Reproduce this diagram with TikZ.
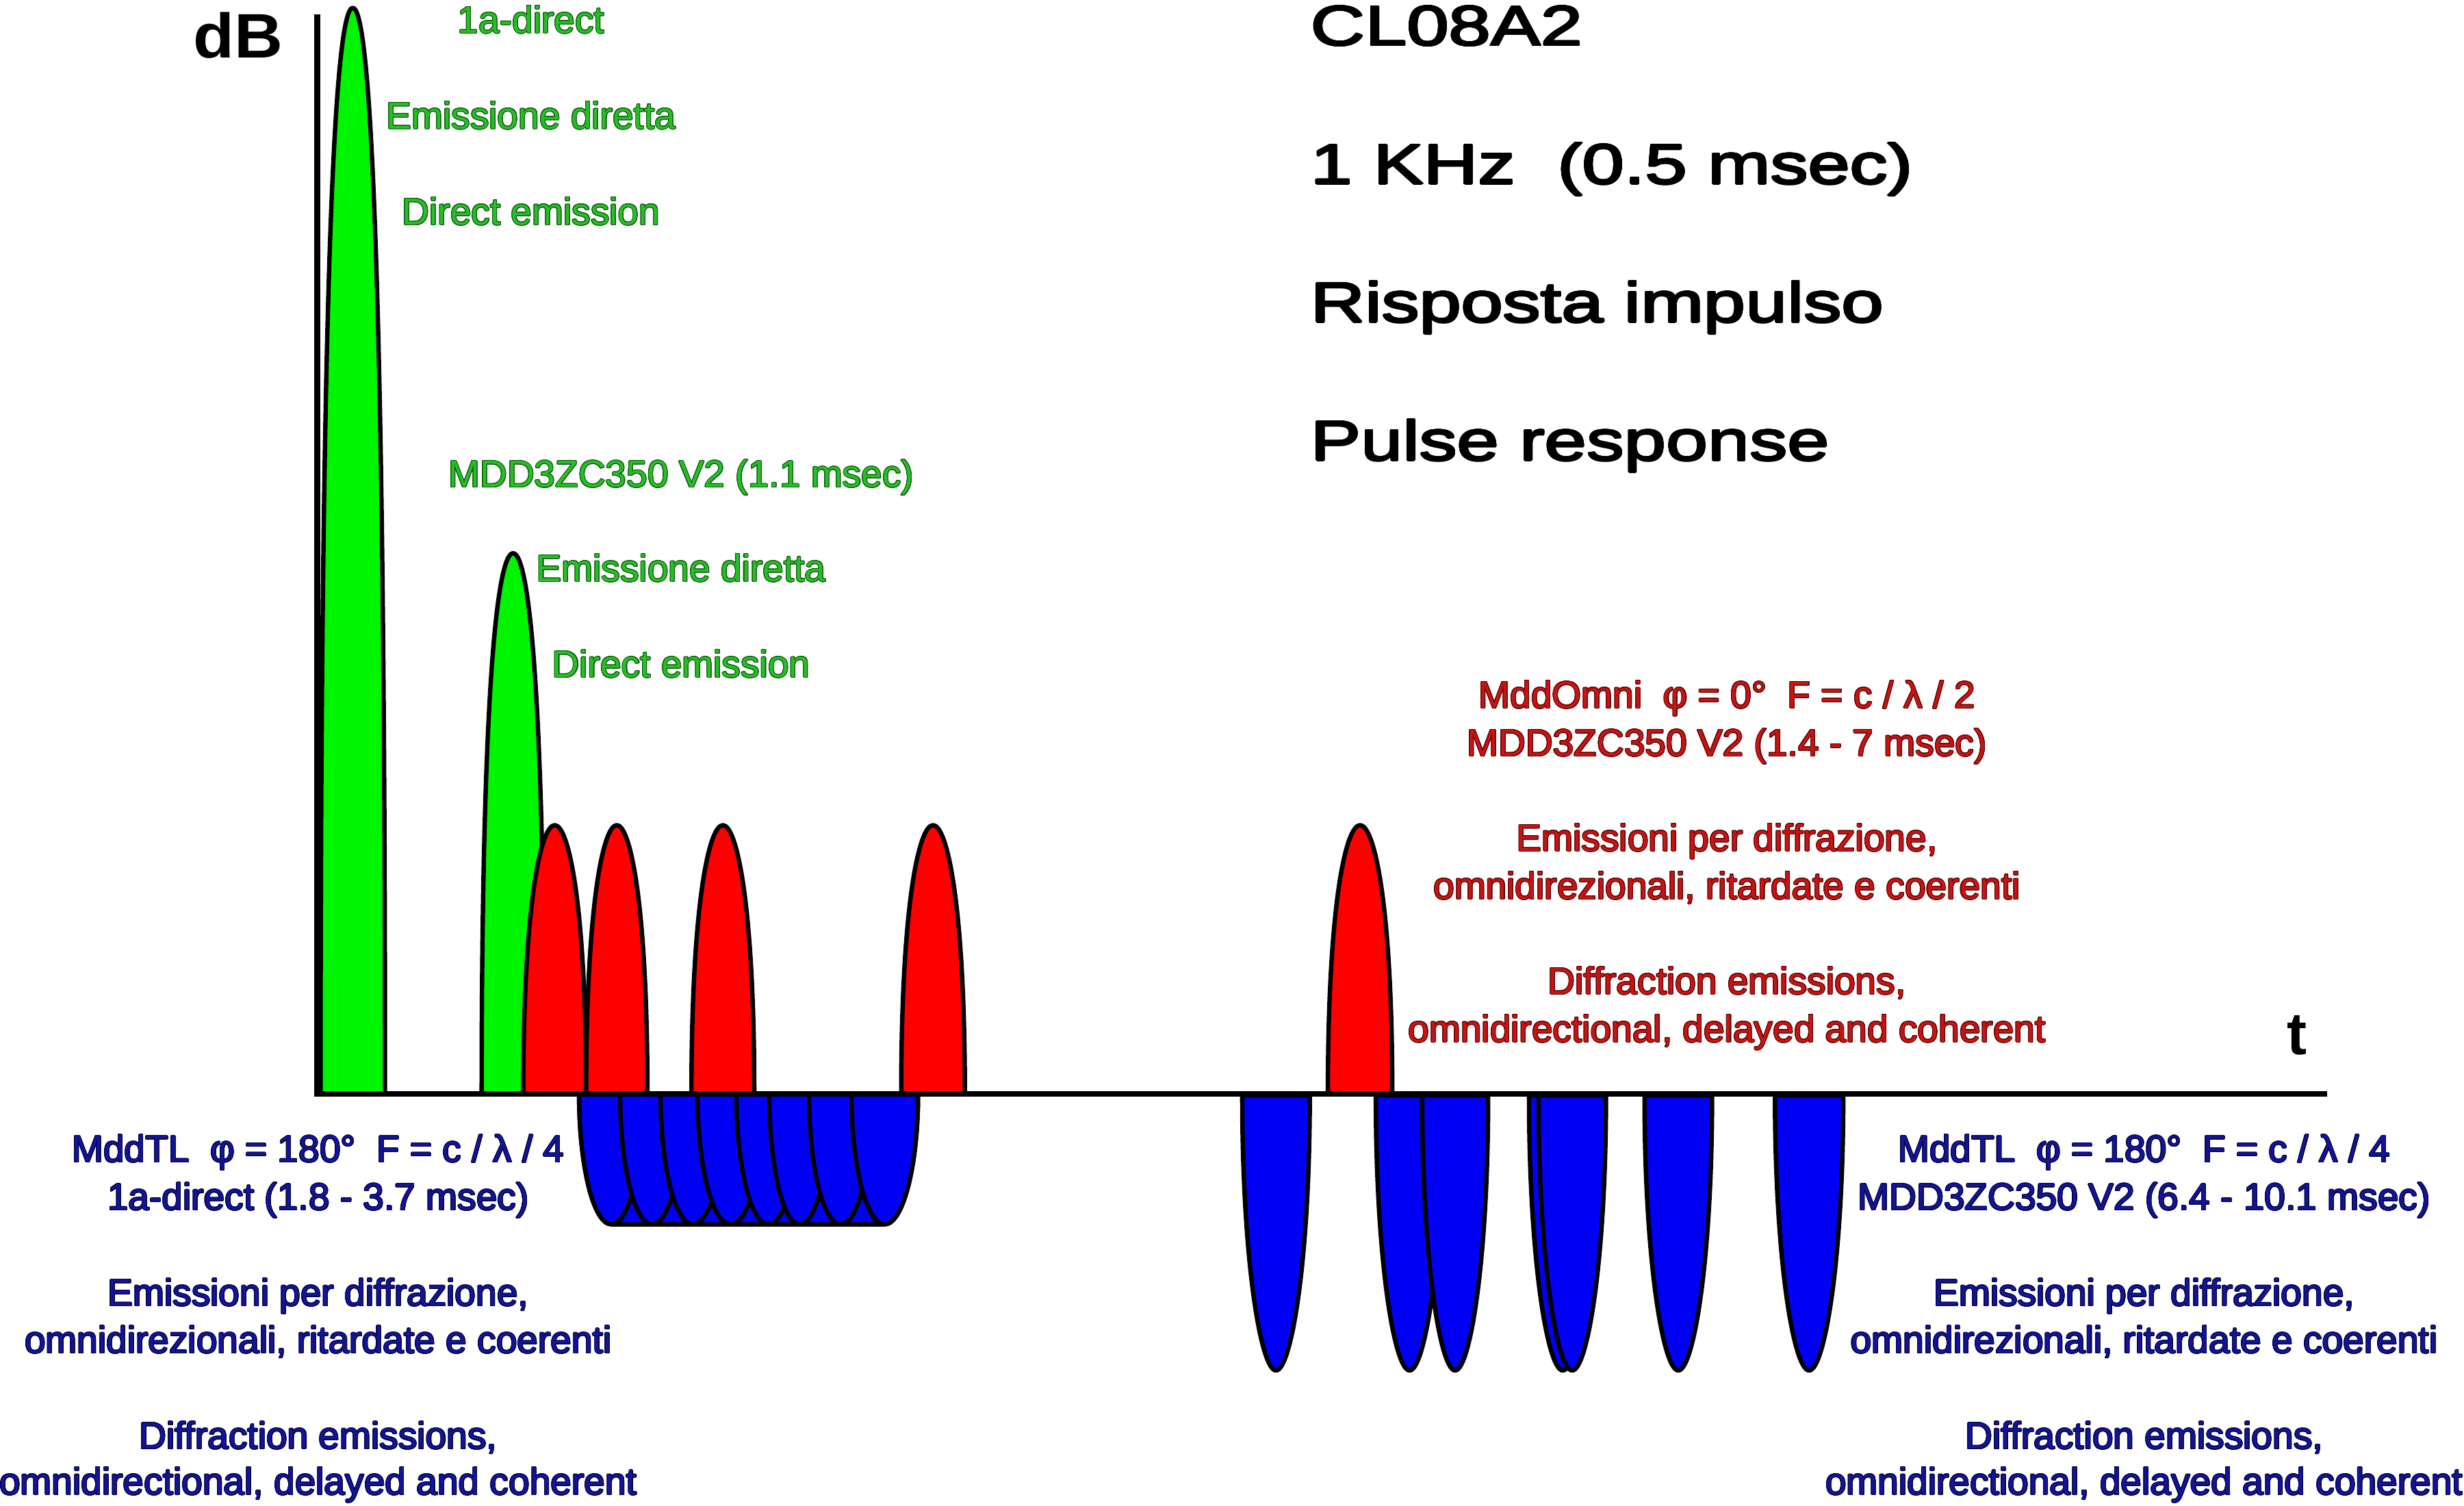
\documentclass[tikz,border=0pt]{standalone}
\usepackage{fontspec}
\setmainfont{Liberation Sans}
\usepackage{contour}
\contourlength{0.45pt}
\definecolor{gfill}{RGB}{40,190,40}
\definecolor{gdark}{RGB}{10,90,10}
\definecolor{rfill}{RGB}{200,20,20}
\definecolor{rdark}{RGB}{95,0,0}
\definecolor{bfill}{RGB}{20,20,150}
\definecolor{bdark}{RGB}{0,0,70}
\definecolor{pgreen}{RGB}{0,245,0}
\definecolor{pred}{RGB}{255,0,0}
\definecolor{pblue}{RGB}{0,0,245}
\newcommand\drawpulse[7]{%
  \pgfmathsetmacro\pmC{(#2+#3)/2}%
  \pgfmathsetmacro\pmR{(#3-#2)/2}%
  \pgfmathsetmacro\pmY{#4+#6*(#5-#4)}%
  \pgfmathsetmacro\pmL{\pmC-#7*\pmR}%
  \pgfmathsetmacro\pmQ{\pmC+#7*\pmR}%
  \filldraw[pulseline, fill=#1] (#2,#4) .. controls (#2,\pmY) and (\pmL,#5) .. (\pmC,#5) .. controls (\pmQ,#5) and (#3,\pmY) .. (#3,#4) -- cycle;
}
\newcommand\txtG[1]{\contour{gdark}{#1}}
\newcommand\txtR[1]{\contour{rdark}{#1}}
\newcommand\txtB[1]{\contour{bdark}{#1}}
\newcommand\txtK[1]{\contourlength{0.6pt}\contour{black}{\scalebox{1.33}[1]{#1}}}
\begin{document}
\begin{tikzpicture}[x=1pt,y=-1pt,
  pulseline/.style={draw=black, line width=2.8pt, line join=round},
  axisline/.style={draw=black, line width=3.8pt},
  lbl/.style={inner sep=0pt, anchor=base, font=\fontsize{24}{28}\selectfont},
  gtxt/.style={lbl, text=gfill},
  rtxt/.style={lbl, text=rfill},
  btxt/.style={lbl, text=bfill},
  ttl/.style={inner sep=0pt, anchor=base west, font=\fontsize{36}{40}\selectfont}]
\fill[white] (0,0) rectangle (1568,958);
\useasboundingbox (0,0) rectangle (1568,958);

% green direct pulses
\drawpulse{pgreen}{204}{245}{696}{5}{0.8}{0.5}
\drawpulse{pgreen}{306.5}{346.5}{696}{352}{0.75}{0.5}
% red pulses
\drawpulse{pred}{333}{373}{696}{525}{0.7}{0.45}
\drawpulse{pred}{373}{412}{696}{525}{0.7}{0.45}
\drawpulse{pred}{440}{480}{696}{525}{0.7}{0.45}
\drawpulse{pred}{573.5}{614}{696}{525}{0.7}{0.45}
\drawpulse{pred}{845}{886}{696}{525}{0.7}{0.45}

% blue group (1.8 - 3.7 msec)
\filldraw[pulseline, fill=pblue] (368.5,696) .. controls (368.5,741.8) and (377.7,779) .. (389,779) -- (563,779) .. controls (574.5,779) and (584.2,741.8) .. (584.2,696) -- cycle;
\drawpulse{pblue}{368.5}{409.5}{696}{779}{0.552}{0.552}
\drawpulse{pblue}{394.6}{435.4}{696}{779}{0.552}{0.552}
\drawpulse{pblue}{420.3}{461.7}{696}{779}{0.552}{0.552}
\drawpulse{pblue}{443.8}{486.2}{696}{779}{0.552}{0.552}
\drawpulse{pblue}{468.6}{509.4}{696}{779}{0.552}{0.552}
\drawpulse{pblue}{489.5}{528.5}{696}{779}{0.552}{0.552}
\drawpulse{pblue}{514.8}{555.2}{696}{779}{0.552}{0.552}
\drawpulse{pblue}{541.8}{584.2}{696}{779}{0.552}{0.552}

% blue pulses (6.4 - 10.1 msec)
\drawpulse{pblue}{790.5}{833.5}{697}{872}{0.6}{0.45}
\drawpulse{pblue}{875.5}{918.5}{697}{872}{0.6}{0.45}
\drawpulse{pblue}{905}{947}{697}{872}{0.6}{0.45}
\drawpulse{pblue}{973}{1016}{697}{872}{0.6}{0.45}
\drawpulse{pblue}{979}{1022}{697}{872}{0.6}{0.45}
\drawpulse{pblue}{1046.5}{1089.5}{697}{872}{0.6}{0.45}
\drawpulse{pblue}{1129.5}{1173}{697}{872}{0.6}{0.45}

% axes
\coordinate (ytop) at (202,9);
\coordinate (orig) at (202,696);
\coordinate (xend) at (1481,696);
\draw[axisline] (ytop) -- ([yshift=-1.9pt]orig);
\draw[axisline] ([xshift=-1.9pt]orig) -- (xend);
\node[inner sep=0pt, anchor=base west, font=\bfseries\fontsize{40}{44}\selectfont] (dB) at (123,37) {\scalebox{1.07}[1]{dB}};
\node[inner sep=0pt, anchor=base west, font=\bfseries\fontsize{38}{40}\selectfont] (tlab) at (1455,671) {t};

% title
\node[ttl] (t1) at (834,29) {\txtK{CL08A2}};
\node[ttl] (t2) at (834,117) {\txtK{1 KHz\ \ (0.5 msec)}};
\node[ttl] (t3) at (834,205) {\txtK{Risposta impulso}};
\node[ttl] (t4) at (834,293) {\txtK{Pulse response}};

% green labels
\node[gtxt] (g1) at (338,21) {\txtG{1a-direct}};
\node[gtxt] (g2) at (338,82) {\txtG{Emissione diretta}};
\node[gtxt] (g3) at (338,143) {\txtG{Direct emission}};
\node[gtxt] (g4) at (433.5,310) {\txtG{MDD3ZC350 V2 (1.1 msec)}};
\node[gtxt] (g5) at (433.5,370) {\txtG{Emissione diretta}};
\node[gtxt] (g6) at (433.5,431) {\txtG{Direct emission}};

% red labels
\node[rtxt] (r1) at (1099,450.5) {\txtR{MddOmni\ \ φ = 0°\ \ F = c / λ / 2}};
\node[rtxt] (r2) at (1099,481) {\txtR{MDD3ZC350 V2 (1.4 - 7 msec)}};
\node[rtxt] (r3) at (1099,541.5) {\txtR{Emissioni per diffrazione,}};
\node[rtxt] (r4) at (1099,572) {\txtR{omnidirezionali, ritardate e coerenti}};
\node[rtxt] (r5) at (1099,632.5) {\txtR{Diffraction emissions,}};
\node[rtxt] (r6) at (1099,663) {\txtR{omnidirectional, delayed and coherent}};

% blue labels left
\node[btxt] (bl1) at (202.5,739.5) {\txtB{MddTL\ \ φ = 180°\ \ F = c / λ / 4}};
\node[btxt] (bl2) at (202.5,770) {\txtB{1a-direct (1.8 - 3.7 msec)}};
\node[btxt] (bl3) at (202.5,831) {\txtB{Emissioni per diffrazione,}};
\node[btxt] (bl4) at (202.5,861) {\txtB{omnidirezionali, ritardate e coerenti}};
\node[btxt] (bl5) at (202.5,922) {\txtB{Diffraction emissions,}};
\node[btxt] (bl6) at (202.5,951) {\txtB{omnidirectional, delayed and coherent}};

% blue labels right
\node[btxt] (br1) at (1364.5,739.5) {\txtB{MddTL\ \ φ = 180°\ \ F = c / λ / 4}};
\node[btxt] (br2) at (1364.5,770) {\txtB{MDD3ZC350 V2 (6.4 - 10.1 msec)}};
\node[btxt] (br3) at (1364.5,831) {\txtB{Emissioni per diffrazione,}};
\node[btxt] (br4) at (1364.5,861) {\txtB{omnidirezionali, ritardate e coerenti}};
\node[btxt] (br5) at (1364.5,922) {\txtB{Diffraction emissions,}};
\node[btxt] (br6) at (1364.5,951) {\txtB{omnidirectional, delayed and coherent}};
\end{tikzpicture}
\end{document}
